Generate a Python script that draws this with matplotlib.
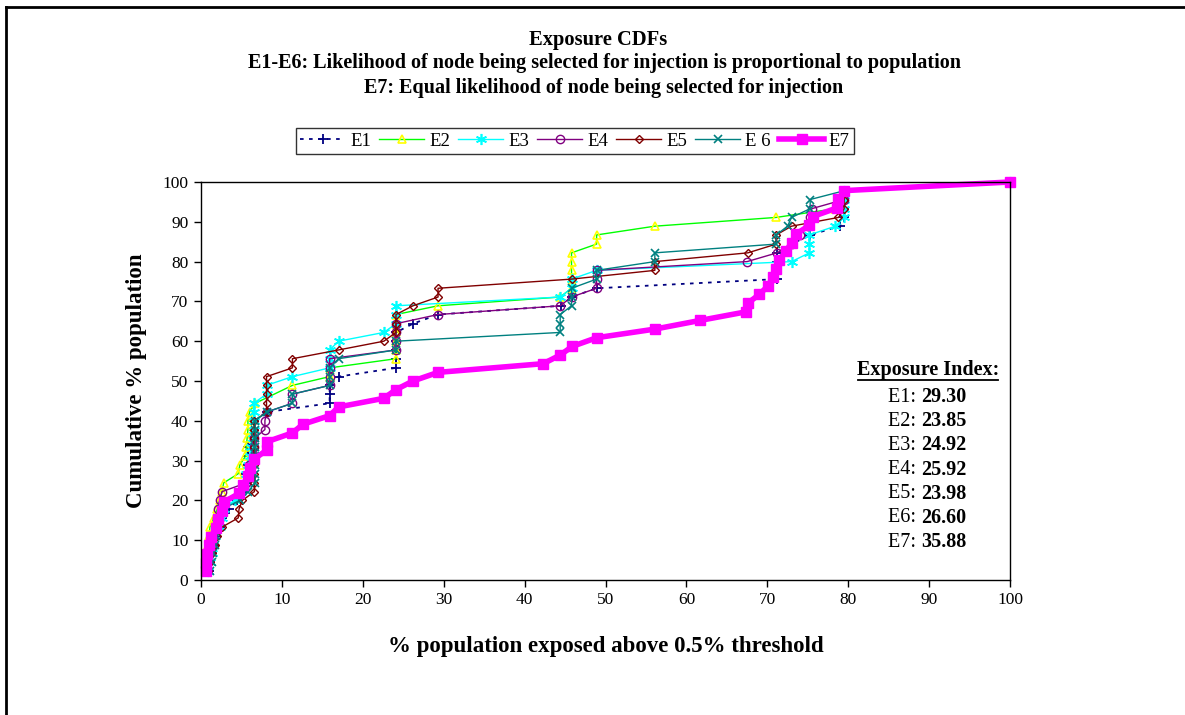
import matplotlib.pyplot as plt
from matplotlib.lines import Line2D

plt.rcParams['font.family'] = ['Liberation Serif', 'DejaVu Serif']

W, H = 1185, 715

# Cumulative % population (y) vs % population exposed (x) for each run
e1_x = [1.0, 1.1, 1.3, 1.6, 1.9, 2.3, 2.6, 3.5, 4.5, 5.3, 5.6, 5.6, 5.8, 5.8, 5.8, 6.6, 6.6, 6.6,
        8.1, 15.9, 15.9, 15.9, 17.0, 24.1, 24.1, 24.1, 24.1, 24.1, 26.2, 29.3, 44.5, 45.8, 48.9,
        71.2, 71.2, 71.2, 71.2, 73.0, 75.3, 79.0, 79.5, 79.5, 79.5, 79.5, 100.0]
e1_y = [2.2, 4.4, 6.7, 8.9, 11.1, 13.3, 15.6, 17.8, 20.0, 22.2, 24.4, 26.7, 28.9, 31.1, 33.3, 35.6,
        37.8, 40.0, 42.2, 44.4, 46.7, 48.9, 51.1, 53.3, 55.6, 57.8, 60.0, 62.2, 64.4, 66.7, 68.9,
        71.1, 73.3, 75.6, 77.8, 80.0, 82.2, 84.4, 86.7, 88.9, 91.1, 93.3, 95.6, 97.8, 100.0]

e2_x = [0.6, 0.7, 0.8, 0.9, 1.0, 1.1, 1.6, 2.0, 2.3, 2.6, 2.8, 4.6, 4.8, 5.5, 5.6, 5.7, 5.8, 5.8,
        6.0, 6.7, 11.3, 15.9, 15.9, 24.1, 24.1, 24.1, 24.1, 24.1, 24.1, 29.3, 44.4, 45.8, 45.8,
        45.8, 45.8, 45.8, 48.9, 48.9, 56.1, 71.1, 78.4, 79.2, 79.5, 100.0]
e2_y = [2.2, 4.4, 6.7, 8.9, 11.1, 13.3, 15.6, 17.8, 20.0, 22.2, 24.4, 26.7, 28.9, 31.1, 33.3, 35.6,
        37.8, 40.0, 42.2, 44.4, 48.9, 51.1, 53.3, 55.6, 57.8, 60.0, 62.2, 64.4, 66.7, 68.9, 71.1,
        73.3, 75.6, 77.8, 80.0, 82.2, 84.4, 86.7, 88.9, 91.1, 93.3, 95.6, 97.8, 100.0]

e3_x = [0.9, 1.1, 1.3, 1.5, 1.7, 2.3, 2.6, 2.8, 4.2, 5.0, 5.5, 5.6, 5.8, 6.0, 6.2, 6.4, 6.5, 6.5,
        6.5, 6.5, 8.1, 8.1, 11.3, 15.9, 15.9, 15.9, 17.0, 22.6, 24.1, 24.1, 24.1, 44.4, 45.8, 45.8,
        48.9, 73.0, 75.2, 75.2, 75.2, 78.4, 79.5, 79.5, 79.5, 79.5, 100.0]
e3_y = [2.2, 4.4, 6.7, 8.9, 11.1, 13.3, 15.6, 17.8, 20.0, 22.2, 24.4, 26.7, 28.9, 31.1, 33.3, 35.6,
        37.8, 40.0, 42.2, 44.4, 46.7, 48.9, 51.1, 53.3, 55.6, 57.8, 60.0, 62.2, 64.4, 66.7, 68.9,
        71.1, 73.3, 75.6, 77.8, 80.0, 82.2, 84.4, 86.7, 88.9, 91.1, 93.3, 95.6, 97.8, 100.0]

e4_x = [0.8, 0.9, 1.1, 1.3, 1.5, 1.8, 2.0, 2.1, 2.3, 2.6, 5.6, 5.8, 5.9, 6.5, 6.6, 6.6, 7.9, 7.9,
        8.1, 11.3, 11.3, 15.9, 15.9, 15.9, 15.9, 24.1, 24.1, 24.1, 24.1, 29.3, 44.4, 45.8, 48.9,
        48.9, 48.9, 67.5, 71.2, 73.0, 74.0, 75.0, 75.3, 75.5, 79.5, 79.5, 100.0]
e4_y = [2.2, 4.4, 6.7, 8.9, 11.1, 13.3, 15.6, 17.8, 20.0, 22.2, 24.4, 26.7, 28.9, 31.1, 33.3, 35.6,
        37.8, 40.0, 42.2, 44.4, 46.7, 48.9, 51.1, 53.3, 55.6, 57.8, 60.0, 62.2, 64.4, 66.7, 68.9,
        71.1, 73.3, 75.6, 77.8, 80.0, 82.2, 84.4, 86.7, 88.9, 91.1, 93.3, 95.6, 97.8, 100.0]

e5_x = [0.9, 1.1, 1.4, 1.7, 2.0, 2.6, 4.6, 4.7, 5.1, 6.6, 6.6, 6.6, 6.6, 6.6, 6.6, 6.6, 6.6, 6.6,
        8.1, 8.1, 8.1, 8.1, 8.1, 11.3, 11.3, 17.0, 22.6, 24.1, 24.1, 24.1, 26.2, 29.3, 29.3, 45.8,
        56.1, 56.1, 67.6, 71.1, 71.1, 73.0, 78.8, 79.5, 79.5, 79.5, 100.0]
e5_y = [2.2, 4.4, 6.7, 8.9, 11.1, 13.3, 15.6, 17.8, 20.0, 22.2, 24.4, 26.7, 28.9, 31.1, 33.3, 35.6,
        37.8, 40.0, 42.2, 44.4, 46.7, 48.9, 51.1, 53.3, 55.6, 57.8, 60.0, 62.2, 64.4, 66.7, 68.9,
        71.1, 73.3, 75.6, 77.8, 80.0, 82.2, 84.4, 86.7, 88.9, 91.1, 93.3, 95.6, 97.8, 100.0]

e6_x = [1.1, 1.3, 1.5, 1.7, 1.9, 2.1, 2.4, 2.6, 4.8, 5.8, 6.7, 6.7, 6.7, 6.7, 6.7, 6.7, 6.7, 6.7,
        8.1, 11.3, 11.3, 15.9, 15.9, 15.9, 17.0, 24.1, 24.1, 44.4, 44.4, 44.4, 45.8, 45.8, 45.8,
        48.9, 48.9, 56.1, 56.1, 71.1, 71.1, 72.5, 73.0, 75.3, 75.3, 79.5, 100.0]
e6_y = [2.2, 4.4, 6.7, 8.9, 11.1, 13.3, 15.6, 17.8, 20.0, 22.2, 24.4, 26.7, 28.9, 31.1, 33.3, 35.6,
        37.8, 40.0, 42.2, 44.4, 46.7, 48.9, 51.1, 53.3, 55.6, 57.8, 60.0, 62.2, 64.4, 66.7, 68.9,
        71.1, 73.3, 75.6, 77.8, 80.0, 82.2, 84.4, 86.7, 88.9, 91.1, 93.3, 95.6, 97.8, 100.0]

e7_x = [0.6, 0.6, 0.7, 1.0, 1.2, 1.85, 2.1, 2.6, 2.8, 4.7, 5.2, 5.8, 6.0, 6.6, 8.1, 8.2, 11.3,
        12.6, 15.9, 17.0, 22.6, 24.1, 26.2, 29.3, 42.3, 44.4, 45.9, 48.9, 56.1, 61.7, 67.4, 67.6,
        69.0, 70.1, 70.7, 71.1, 71.5, 72.3, 73.0, 73.6, 75.2, 75.6, 78.6, 78.8, 79.5, 100.0]
e7_y = [2.17, 4.35, 6.52, 8.70, 10.87, 13.04, 15.22, 17.39, 19.57, 21.74, 23.91, 26.09, 28.26,
        30.43, 32.61, 34.78, 36.96, 39.13, 41.30, 43.48, 45.65, 47.83, 50.0, 52.17, 54.35, 56.52,
        58.70, 60.87, 63.04, 65.22, 67.39, 69.57, 71.74, 73.91, 76.09, 78.26, 80.43, 82.61, 84.78,
        86.96, 89.13, 91.30, 93.48, 95.65, 97.83, 100.0]

index_names = ["E1", "E2", "E3", "E4", "E5", "E6", "E7"]
index_values = ["29.30", "23.85", "24.92", "25.92", "23.98", "26.60", "35.88"]

fig = plt.figure(figsize=(W / 100, H / 100), dpi=100)
ax = fig.add_axes([201 / W, 1 - 580 / H, 809 / W, 398 / H])

series = [
    (e1_x, e1_y, dict(color="#000080", ls=(0, (2, 3)), lw=1.3, marker="+", ms=7, mew=1.3), "E1"),
    (e2_x, e2_y, dict(color="#00FF00", lw=1.0, marker="^", ms=6, mfc="none", mec="#FFFF00", mew=1.2), "E2"),
    (e3_x, e3_y, dict(color="#00FFFF", lw=1.0, marker=(6, 2, 0), ms=8, mew=1.2), "E3"),
    (e4_x, e4_y, dict(color="#800080", lw=1.0, marker="o", ms=6, mfc="none", mew=1.0), "E4"),
    (e5_x, e5_y, dict(color="#800000", lw=1.0, marker="D", ms=4.5, mfc="none", mew=1.0), "E5"),
    (e6_x, e6_y, dict(color="#008080", lw=1.0, marker="x", ms=6, mew=1.2), "E 6"),
    (e7_x, e7_y, dict(color="#FF00FF", lw=4, marker="s", ms=6.5), "E7"),
]

handles = []
for x, y, style, name in series:
    ln, = ax.plot(x, y, label=name, clip_on=False, **style)
    handles.append(ln)

ax.set_xlim(0, 100)
ax.set_ylim(0, 100)
ax.set_xticks(range(0, 101, 10))
ax.set_yticks(range(0, 101, 10))
ax.tick_params(direction="out", length=5, width=1, labelsize=12.5, pad=4)
for sp in ax.spines.values():
    sp.set_linewidth(1.0)
    sp.set_color("black")

ax.set_xlabel("% population exposed above 0.5% threshold", fontsize=16.5, fontweight="bold")
ax.xaxis.set_label_coords(0.5, -0.14)
ax.set_ylabel("Cumulative % population", fontsize=16.5, fontweight="bold")
ax.yaxis.set_label_coords(-0.067, 0.5)

# Titles
fig.text(598 / W, 1 - 40 / H, "Exposure CDFs", ha="center", va="center",
         fontsize=14.8, fontweight="bold")
fig.text(604 / W, 1 - 63 / H,
         "E1-E6: Likelihood of node being selected for injection is proportional to population",
         ha="center", va="center", fontsize=14.5, fontweight="bold")
fig.text(604 / W, 1 - 88 / H, "E7: Equal likelihood of node being selected for injection",
         ha="center", va="center", fontsize=14.5, fontweight="bold")

leg = fig.legend(handles=handles, loc="center", bbox_to_anchor=(575 / W, 1 - 141 / H), ncol=7,
                 fontsize=13.5, frameon=True, fancybox=False, edgecolor="black",
                 handlelength=2.4, handletextpad=0.25, columnspacing=0.45, borderpad=0.25)
leg.get_frame().set_linewidth(1.0)

# Exposure index box
fig.text(928 / W, 1 - 370 / H, "Exposure Index:", ha="center", va="center",
         fontsize=14.5, fontweight="bold")
fig.add_artist(Line2D([858 / W, 998 / W], [1 - 380 / H, 1 - 380 / H], color="black", lw=1.3))
for i, (nm, val) in enumerate(zip(index_names, index_values)):
    yy = 1 - (397 + i * 24.2) / H
    fig.text(921 / W, yy, nm + ": ", ha="right", va="center", fontsize=14.5)
    fig.text(921 / W, yy, val, ha="left", va="center", fontsize=14.5, fontweight="bold")

# Page border on left and top
fig.add_artist(Line2D([6 / W, 6 / W], [0, 1 - 7 / H], color="black", lw=2))
fig.add_artist(Line2D([6 / W, 1], [1 - 7 / H, 1 - 7 / H], color="black", lw=2))

fig.savefig("out.png", dpi=100)
